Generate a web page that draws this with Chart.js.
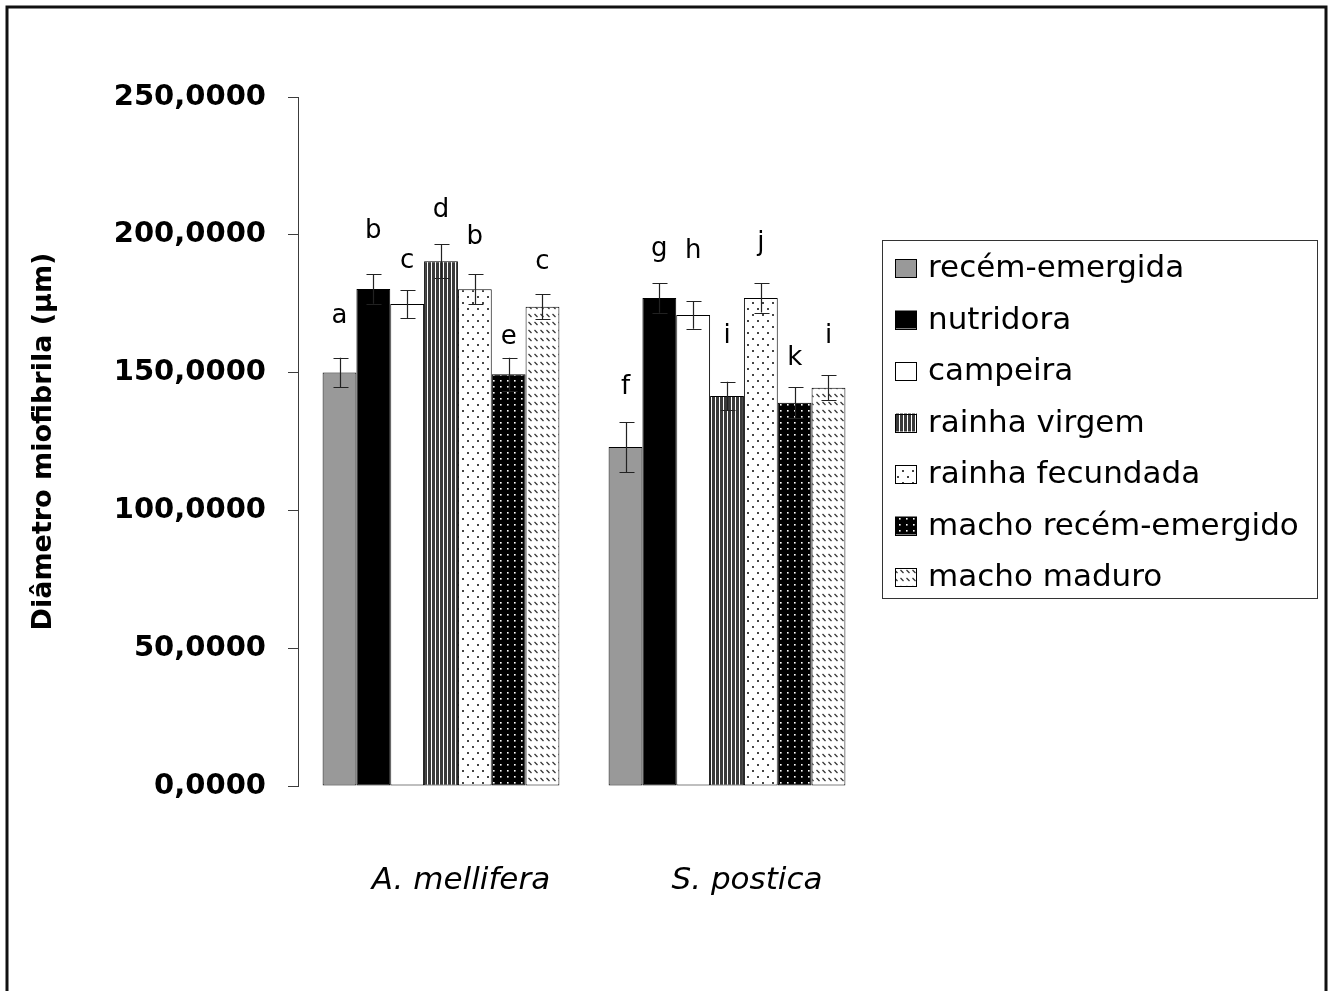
<!DOCTYPE html>
<html><head><meta charset="utf-8">
<script src="https://cdn.jsdelivr.net/npm/chart.js@4/dist/chart.umd.min.js"></script>
<style>html,body{margin:0;padding:0;background:#fff}canvas{display:block}</style>
</head><body>
<canvas id="c" width="1331" height="991"></canvas>
<script>
// ---- data ----
const categories = ['A. mellifera', 'S. postica'];
const seriesNames = ['recém-emergida', 'nutridora', 'campeira', 'rainha virgem', 'rainha fecundada', 'macho recém-emergido', 'macho maduro'];
const recemEmergida       = [150.0, 123.0];
const nutridora           = [180.3, 177.1];
const campeira            = [174.9, 170.9];
const rainhaVirgem        = [190.4, 141.5];
const rainhaFecundada     = [180.2, 177.1];
const machoRecemEmergido  = [149.4, 139.1];
const machoMaduro         = [173.9, 144.5];
const errRecemEmergida      = [5.4, 9.1];
const errNutridora          = [5.3, 5.4];
const errCampeira           = [5.1, 5.0];
const errRainhaVirgem       = [6.2, 5.2];
const errRainhaFecundada    = [5.4, 5.3];
const errMachoRecemEmergido = [6.0, 5.6];
const errMachoMaduro        = [4.6, 4.6];
const lettersRecemEmergida      = ['a', 'f'];
const lettersNutridora          = ['b', 'g'];
const lettersCampeira           = ['c', 'h'];
const lettersRainhaVirgem       = ['d', 'i'];
const lettersRainhaFecundada    = ['b', 'j'];
const lettersMachoRecemEmergido = ['e', 'k'];
const lettersMachoMaduro        = ['c', 'i'];
const yTickValues = [0, 50, 100, 150, 200, 250];

const seriesValues = [recemEmergida, nutridora, campeira, rainhaVirgem, rainhaFecundada, machoRecemEmergido, machoMaduro];
const seriesErrors = [errRecemEmergida, errNutridora, errCampeira, errRainhaVirgem, errRainhaFecundada, errMachoRecemEmergido, errMachoMaduro];
const seriesLetters = [lettersRecemEmergida, lettersNutridora, lettersCampeira, lettersRainhaVirgem, lettersRainhaFecundada, lettersMachoRecemEmergido, lettersMachoMaduro];

// ---- styles ----
// vertical pixel lift of each letter above its error bar (style only)
const letterLift = [[35, 28], [36, 27], [22, 43], [27, 39], [30, 33], [14, 22], [25, 32]];

function makePattern(w, h, draw) {
  const c = document.createElement('canvas');
  c.width = w; c.height = h;
  const g = c.getContext('2d');
  draw(g);
  return document.getElementById('c').getContext('2d').createPattern(c, 'repeat');
}
const patStripes = makePattern(4, 4, g => {
  g.fillStyle = '#fff'; g.fillRect(0, 0, 4, 4);
  g.fillStyle = '#3a3a3a'; g.fillRect(0, 0, 3, 4);
});
const patSparseDots = makePattern(10, 12, g => {
  g.fillStyle = '#fff'; g.fillRect(0, 0, 10, 12);
  g.fillStyle = '#444'; g.fillRect(2, 2, 2, 2); g.fillRect(7, 8, 2, 2);
});
const patBlackDots = makePattern(7, 6, g => {
  g.fillStyle = '#000'; g.fillRect(0, 0, 7, 6);
  g.fillStyle = '#fff'; g.fillRect(3, 2, 1.6, 1.6);
});
const patDashes = makePattern(6, 8, g => {
  g.fillStyle = '#fff'; g.fillRect(0, 0, 6, 8);
  g.strokeStyle = '#333'; g.lineWidth = 1.3;
  g.beginPath(); g.moveTo(0.5, 2); g.lineTo(3.5, 5); g.stroke();
});
const fills = ['#999999', '#000000', '#ffffff', patStripes, patSparseDots, patBlackDots, patDashes];

const extras = {
  id: 'extras',
  afterDatasetsDraw(chart) {
    const ctx = chart.ctx, y = chart.scales.y;
    ctx.save();
    chart.data.datasets.forEach((ds, di) => {
      const meta = chart.getDatasetMeta(di);
      meta.data.forEach((bar, i) => {
        const v = ds.data[i], e = seriesErrors[di][i];
        const yt = y.getPixelForValue(v + e), yb = y.getPixelForValue(v - e);
        const x = Math.round(bar.x) + 0.5;
        ctx.strokeStyle = '#222'; ctx.lineWidth = 1.2;
        ctx.beginPath();
        ctx.moveTo(x, yt); ctx.lineTo(x, yb);
        ctx.moveTo(x - 7, Math.round(yt) + 0.5); ctx.lineTo(x + 8, Math.round(yt) + 0.5);
        ctx.moveTo(x - 7, Math.round(yb) + 0.5); ctx.lineTo(x + 8, Math.round(yb) + 0.5);
        ctx.stroke();
        ctx.fillStyle = '#000';
        ctx.font = "26px 'DejaVu Sans'";
        ctx.textAlign = 'center'; ctx.textBaseline = 'alphabetic';
        ctx.fillText(seriesLetters[di][i], bar.x, yt - letterLift[di][i]);
      });
    });
    ctx.restore();
  },
  afterDraw(chart) {
    const ctx = chart.ctx;
    ctx.save();
    // legend box
    const bx = 882, by = 240, bw = 435, bh = 358;
    ctx.fillStyle = '#fff'; ctx.fillRect(bx, by, bw, bh);
    ctx.strokeStyle = '#333'; ctx.lineWidth = 1;
    ctx.strokeRect(bx + 0.5, by + 0.5, bw, bh);
    chart.data.datasets.forEach((ds, di) => {
      const cy = 268 + di * 51.5;
      ctx.fillStyle = ds.backgroundColor;
      ctx.fillRect(895, cy - 9, 22, 18);
      ctx.strokeStyle = '#000';
      ctx.strokeRect(895.5, Math.round(cy - 9) + 0.5, 21, 18);
      ctx.fillStyle = '#000';
      ctx.font = "31px 'DejaVu Sans'";
      ctx.textAlign = 'left'; ctx.textBaseline = 'middle';
      ctx.fillText(ds.label, 928, cy + 1);
    });
    // outer frame
    ctx.strokeStyle = '#111'; ctx.lineWidth = 3;
    ctx.beginPath();
    ctx.moveTo(7, 991); ctx.lineTo(7, 7); ctx.lineTo(1326, 7); ctx.lineTo(1326, 991);
    ctx.stroke();
    ctx.restore();
  }
};

new Chart(document.getElementById('c'), {
  type: 'bar',
  data: {
    labels: categories,
    datasets: seriesNames.map((name, i) => ({
      label: name,
      data: seriesValues[i],
      backgroundColor: fills[i],
      borderColor: '#000',
      borderWidth: 1,
      borderSkipped: false,
      categoryPercentage: 0.828,
      barPercentage: 1.0
    }))
  },
  options: {
    responsive: false,
    devicePixelRatio: 1,
    animation: false,
    layout: { padding: { left: 0, right: 461, top: 97, bottom: 0 } },
    plugins: { legend: { display: false }, tooltip: { enabled: false } },
    scales: {
      x: {
        grid: { display: false, drawTicks: false },
        border: { display: false },
        ticks: {
          color: '#000',
          font: { family: 'DejaVu Sans', size: 31, style: 'italic' },
          padding: 76,
          labelOffset: 20
        },
        afterFit(s) { s.height = 205; }
      },
      y: {
        min: 0, max: 250,
        afterBuildTicks(s) { s.ticks = yTickValues.map(v => ({ value: v })); },
        grid: { drawOnChartArea: false, drawTicks: true, tickLength: 10, color: '#3c3c3c' },
        border: { display: true, color: '#3c3c3c' },
        ticks: {
          color: '#000',
          font: { family: 'DejaVu Sans', size: 29, weight: 'bold' },
          padding: 22,
          callback: v => v.toFixed(4).replace('.', ',')
        },
        title: {
          display: true,
          text: 'Diâmetro miofibrila (µm)',
          color: '#000',
          font: { family: 'DejaVu Sans', size: 27, weight: 'bold' },
          padding: { top: 28, bottom: 0 }
        },
        afterFit(s) { s.width = 298; }
      }
    }
  },
  plugins: [extras]
});
</script>
</body></html>
